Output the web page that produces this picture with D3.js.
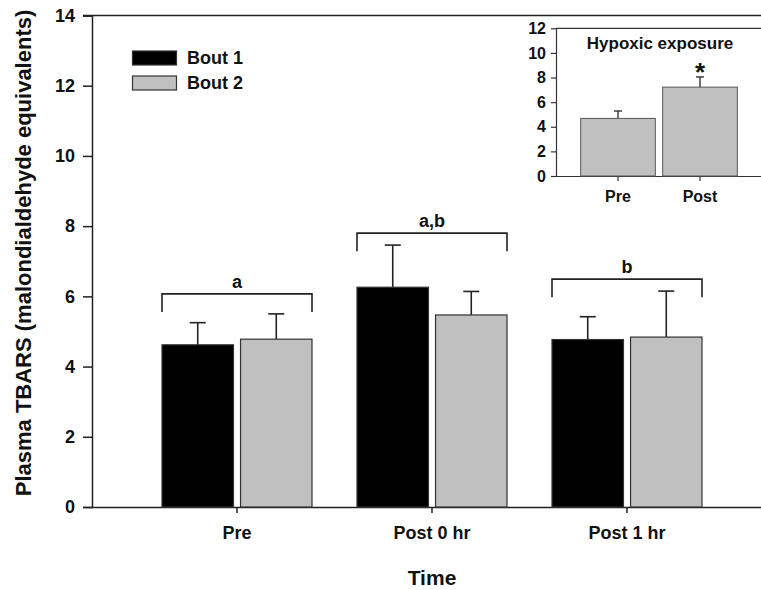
<!DOCTYPE html>
<html>
<head>
<meta charset="utf-8">
<script src="https://cdn.jsdelivr.net/npm/d3@7"></script>
<style>
    body { margin: 0; background: #fff; }
    text { font-family: "Liberation Sans", Arial, sans-serif; font-weight: bold; fill: #111; }
</style>
</head>
<body>
<svg id="chart" width="761" height="590"></svg>
<script>
// main panel data
const timePoints = ['Pre', 'Post 0 hr', 'Post 1 hr'];
const bouts = ['Bout 1', 'Bout 2'];
const bout1Mean = [4.62, 6.26, 4.77];
const bout1Err = [0.63, 1.2, 0.65];
const bout2Mean = [4.78, 5.47, 4.84];
const bout2Err = [0.72, 0.67, 1.31];
const bracketLevel = [6.07, 7.8, 6.49];
const bracketLabel = ['a', 'a,b', 'b'];
const yTicks = [0, 2, 4, 6, 8, 10, 12, 14];

// inset data
const insetCats = ['Pre', 'Post'];
const insetMean = [4.68, 7.22];
const insetErr = [0.6, 0.83];
const insetTicks = [0, 2, 4, 6, 8, 10, 12];

const svg = d3.select('#chart');
const grey = '#c0c0c0';
const fillFor = { 'Bout 1': '#000', 'Bout 2': grey };

// --- main axes ---
const y = d3.scaleLinear().domain([0, 14]).range([507, 15.5]);
const x = d3.scaleBand().domain(timePoints).range([139.5, 724.5]);
const xInner = d3.scaleBand().domain(bouts).range([-75, 75]).paddingInner(0.09);
const axisLeft = 92;

// frame top line (continues to the right edge)
svg.append('line')
    .attr('x1', 83).attr('x2', 761)
    .attr('y1', y(14)).attr('y2', y(14))
    .attr('stroke', '#222').attr('stroke-width', 1.5);

const yAxis = svg.append('g')
    .attr('transform', `translate(${axisLeft},0)`)
    .call(d3.axisLeft(y).tickValues(yTicks).tickSize(9).tickPadding(8));
yAxis.selectAll('text').style('font-size', '18px');

const xAxis = svg.append('g')
    .attr('transform', `translate(0,${y(0)})`)
    .call(d3.axisBottom(x).tickSize(6).tickPadding(13).tickSizeOuter(0));
xAxis.select('.domain').attr('d', `M${axisLeft},0.5H761`);
xAxis.selectAll('text').style('font-size', '18px');
[yAxis, xAxis].forEach(g => {
    g.select('.domain').attr('stroke', '#222').attr('stroke-width', 1.5);
    g.selectAll('.tick line').attr('stroke', '#222').attr('stroke-width', 1.5);
});

// --- bars ---
const rows = [];
timePoints.forEach((t, i) => {
    rows.push({ t: t, bout: 'Bout 1', mean: bout1Mean[i], err: bout1Err[i] });
    rows.push({ t: t, bout: 'Bout 2', mean: bout2Mean[i], err: bout2Err[i] });
});
const barX = d => x(d.t) + x.bandwidth() / 2 + xInner(d.bout);
const barMid = d => barX(d) + xInner.bandwidth() / 2;

// error bars first so the bar covers the lower half
svg.append('g').selectAll('g')
    .data(rows)
    .enter()
    .append('g')
    .each(function(d) {
        const g = d3.select(this);
        g.append('line')
            .attr('x1', barMid(d)).attr('x2', barMid(d))
            .attr('y1', y(d.mean)).attr('y2', y(d.mean + d.err));
        g.append('line')
            .attr('x1', barMid(d) - 8).attr('x2', barMid(d) + 8)
            .attr('y1', y(d.mean + d.err)).attr('y2', y(d.mean + d.err));
    })
    .attr('stroke', '#222').attr('stroke-width', 1.6);

svg.append('g').selectAll('rect')
    .data(rows)
    .enter()
    .append('rect')
    .attr('x', barX)
    .attr('y', d => y(d.mean))
    .attr('width', xInner.bandwidth())
    .attr('height', d => y(0) - y(d.mean))
    .attr('fill', d => fillFor[d.bout])
    .attr('stroke', '#333')
    .attr('stroke-width', 1.2);

// --- significance brackets ---
const legLen = 18;
timePoints.forEach((t, i) => {
    const c = x(t) + x.bandwidth() / 2;
    const x0 = c + xInner.range()[0];
    const x1 = c + xInner.range()[1];
    const by = y(bracketLevel[i]);
    svg.append('path')
        .attr('d', `M${x0},${by + legLen}V${by}H${x1}V${by + legLen}`)
        .attr('fill', 'none')
        .attr('stroke', '#222')
        .attr('stroke-width', 1.6);
    svg.append('text')
        .attr('x', c)
        .attr('y', by - 6)
        .attr('text-anchor', 'middle')
        .style('font-size', '18px')
        .text(bracketLabel[i]);
});

// --- legend ---
bouts.forEach((b, i) => {
    const ly = 51 + i * 25;
    svg.append('rect')
        .attr('x', 132.5).attr('y', ly)
        .attr('width', 44).attr('height', 14)
        .attr('fill', fillFor[b])
        .attr('stroke', '#333').attr('stroke-width', 1.2);
    svg.append('text')
        .attr('x', 187).attr('y', ly + 13)
        .style('font-size', '18px')
        .text(b);
});

// --- axis titles ---
svg.append('text')
    .attr('transform', 'translate(31,253) rotate(-90)')
    .attr('text-anchor', 'middle')
    .style('font-size', '22px')
    .text('Plasma TBARS (malondialdehyde equivalents)');

svg.append('text')
    .attr('x', x('Post 0 hr') + x.bandwidth() / 2)
    .attr('y', 585)
    .attr('text-anchor', 'middle')
    .style('font-size', '21px')
    .text('Time');

// --- inset ---
const yi = d3.scaleLinear().domain([0, 12]).range([176, 28.3]);
const xi = d3.scaleBand().domain(insetCats).range([577, 741]).paddingInner(0.09).paddingOuter(0.045);
const insetLeft = 556;

svg.append('rect')
    .attr('x', insetLeft).attr('y', yi(12))
    .attr('width', 761 - insetLeft).attr('height', yi(0) - yi(12))
    .attr('fill', '#fff');
svg.append('line')
    .attr('x1', insetLeft).attr('x2', 761)
    .attr('y1', yi(12)).attr('y2', yi(12))
    .attr('stroke', '#333').attr('stroke-width', 1.2);

const yiAxis = svg.append('g')
    .attr('transform', `translate(${insetLeft},0)`)
    .call(d3.axisLeft(yi).tickValues(insetTicks).tickSize(5).tickPadding(5).tickSizeOuter(0));
yiAxis.selectAll('text').style('font-size', '16px');

const xiAxis = svg.append('g')
    .attr('transform', `translate(0,${yi(0)})`)
    .call(d3.axisBottom(xi).tickSize(5).tickPadding(10).tickSizeOuter(0));
xiAxis.select('.domain').attr('d', `M${insetLeft},0.5H761`);
xiAxis.selectAll('text').style('font-size', '16px');
[yiAxis, xiAxis].forEach(g => {
    g.select('.domain').attr('stroke', '#333').attr('stroke-width', 1.2);
    g.selectAll('.tick line').attr('stroke', '#333').attr('stroke-width', 1.2);
});

insetCats.forEach((c, i) => {
    const mid = xi(c) + xi.bandwidth() / 2;
    svg.append('line')
        .attr('x1', mid).attr('x2', mid)
        .attr('y1', yi(insetMean[i])).attr('y2', yi(insetMean[i] + insetErr[i]))
        .attr('stroke', '#333').attr('stroke-width', 1.4);
    svg.append('line')
        .attr('x1', mid - 4).attr('x2', mid + 4)
        .attr('y1', yi(insetMean[i] + insetErr[i])).attr('y2', yi(insetMean[i] + insetErr[i]))
        .attr('stroke', '#333').attr('stroke-width', 1.4);
    svg.append('rect')
        .attr('x', xi(c))
        .attr('y', yi(insetMean[i]))
        .attr('width', xi.bandwidth())
        .attr('height', yi(0) - yi(insetMean[i]))
        .attr('fill', grey)
        .attr('stroke', '#555')
        .attr('stroke-width', 1);
});

svg.append('text')
    .attr('x', xi('Post') + xi.bandwidth() / 2)
    .attr('y', 81)
    .attr('text-anchor', 'middle')
    .style('font-size', '26px')
    .text('*');

svg.append('text')
    .attr('x', 660)
    .attr('y', 49)
    .attr('text-anchor', 'middle')
    .style('font-size', '17px')
    .text('Hypoxic exposure');
</script>
</body>
</html>
